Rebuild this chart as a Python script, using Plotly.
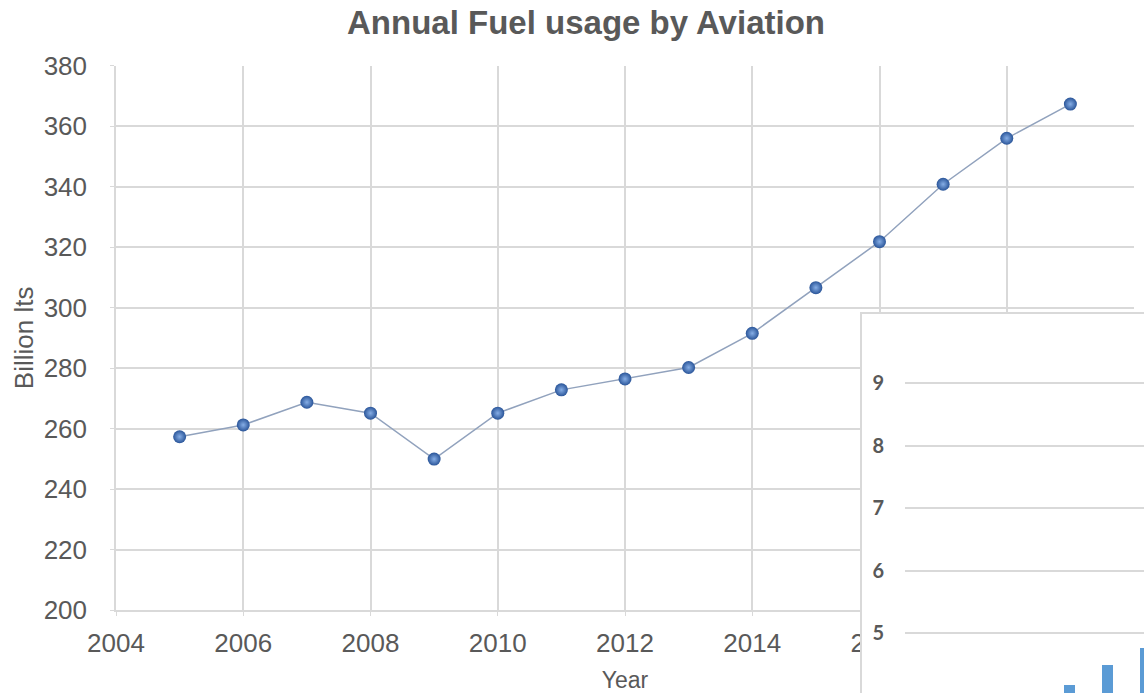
import plotly.graph_objects as go

W, H = 1144, 693

# Main series: annual aviation fuel usage
years = [2005, 2006, 2007, 2008, 2009, 2010, 2011, 2012, 2013, 2014,
         2015, 2016, 2017, 2018, 2019]
fuel_billion_lts = [257.3, 261.2, 268.7, 265.1, 249.9, 265.1, 272.8, 276.4,
                    280.2, 291.5, 306.6, 321.8, 340.8, 356.0, 367.3]

# Overlapping panel: the visible tail of a bar chart
panel_x = [7, 8, 9]
panel_values = [4.17, 4.49, 4.76]

TEXT = "#595959"
GRID = "#d9d9d9"
MAIN_FONT = "Liberation Sans, Arial, sans-serif"


def px_x(p):
    return p / W


def px_y(p):
    return 1 - p / H


fig = go.Figure()

fig.add_trace(go.Scatter(
    x=years, y=fuel_billion_lts, mode="lines+markers",
    line=dict(color="#91a2bd", width=1.5),
    marker=dict(size=13, color="#2a5599",
                gradient=dict(type="radial", color="#86aee6"),
                line=dict(width=0)),
    xaxis="x", yaxis="y", showlegend=False,
))

# Blank panel that sits over the lower-right corner of the line chart
fig.add_trace(go.Scatter(x=[None], y=[None], xaxis="x2", yaxis="y2",
                         showlegend=False, hoverinfo="skip"))

fig.add_trace(go.Bar(
    x=panel_x, y=panel_values, width=0.29,
    marker=dict(color="#5b9bd5", line=dict(width=0)),
    xaxis="x3", yaxis="y3", showlegend=False,
))

fig.update_layout(
    width=W, height=H,
    margin=dict(l=0, r=0, t=0, b=0, autoexpand=False),
    paper_bgcolor="white", plot_bgcolor="white",
    title=dict(text="Annual Fuel usage by Aviation",
               x=px_x(586), xanchor="center",
               y=px_y(22), yanchor="middle",
               font=dict(family=MAIN_FONT, size=33, color=TEXT, weight="bold")),
    xaxis=dict(
        domain=[px_x(116), px_x(1134)], range=[2004, 2020],
        tick0=2004, dtick=2, showgrid=True, gridcolor=GRID, gridwidth=1.5,
        showline=True, linecolor=GRID, linewidth=1.5,
        ticks="outside", ticklen=4, tickcolor=GRID,
        tickfont=dict(family=MAIN_FONT, size=26, color=TEXT),
        ticklabelstandoff=5, zeroline=False, anchor="y", automargin=False,
        title=dict(text="Year", standoff=15,
                   font=dict(family=MAIN_FONT, size=23, color=TEXT)),
    ),
    yaxis=dict(
        domain=[px_y(610), px_y(65.7)], range=[200, 380],
        tick0=200, dtick=20, showgrid=True, gridcolor=GRID, gridwidth=1.5,
        showline=True, linecolor=GRID, linewidth=1.5,
        ticks="outside", ticklen=4, tickcolor=GRID,
        tickfont=dict(family=MAIN_FONT, size=26, color=TEXT),
        ticklabelstandoff=18, zeroline=False, anchor="x", automargin=False,
        title=dict(text="Billion lts", standoff=3,
                   font=dict(family=MAIN_FONT, size=26, color=TEXT)),
    ),
    xaxis2=dict(
        domain=[px_x(862), 1], range=[0, 1], anchor="y2", side="top",
        showgrid=False, zeroline=False, showticklabels=False, ticks="",
        showline=True, linecolor=GRID, linewidth=1.5, fixedrange=True,
        automargin=False,
    ),
    yaxis2=dict(
        domain=[0, px_y(314)], range=[0, 1], anchor="x2",
        showgrid=False, zeroline=False, showticklabels=False, ticks="",
        showline=True, linecolor=GRID, linewidth=1.5, fixedrange=True,
        automargin=False,
    ),
    xaxis3=dict(
        domain=[px_x(905), 1], range=[2.68, 8.97], anchor="y3",
        showgrid=False, zeroline=False, showticklabels=False, ticks="",
        showline=False, automargin=False,
    ),
    yaxis3=dict(
        domain=[0, px_y(340)], range=[4.04, 9.688], anchor="x3",
        tick0=0, dtick=1, showgrid=True, gridcolor=GRID, gridwidth=1.5,
        zeroline=False, showline=False, ticks="",
        tickfont=dict(family="Lato, Open Sans, sans-serif", size=20,
                      color=TEXT, weight="bold"),
        ticklabelstandoff=20, automargin=False,
    ),
    bargap=0,
)

fig.write_html("out.html")
